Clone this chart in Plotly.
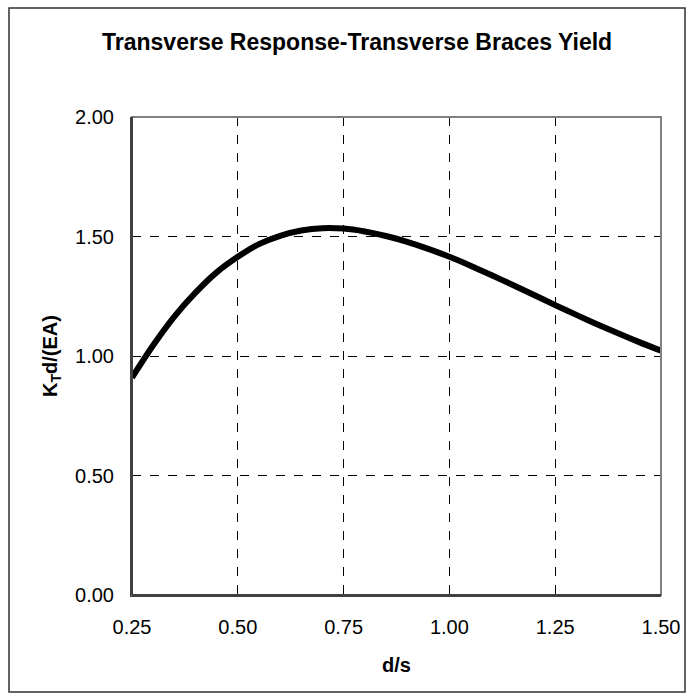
import plotly.graph_objects as go

# d/s ratio and normalised transverse stiffness K_T d/(EA)
d_over_s = [0.25, 0.30, 0.35, 0.40, 0.45, 0.50, 0.55, 0.60, 0.65, 0.70, 0.75,
            0.80, 0.85, 0.90, 0.95, 1.00, 1.05, 1.10, 1.15, 1.20, 1.25, 1.30,
            1.35, 1.40, 1.45, 1.50]
stiffness = [0.91, 1.045, 1.165, 1.265, 1.35, 1.415, 1.468, 1.503, 1.525, 1.535,
             1.533, 1.521, 1.502, 1.478, 1.448, 1.415, 1.378, 1.338, 1.297, 1.255,
             1.213, 1.172, 1.132, 1.094, 1.057, 1.022]

x_ticks = [0.25, 0.50, 0.75, 1.00, 1.25, 1.50]
y_ticks = [0.00, 0.50, 1.00, 1.50, 2.00]

font_family = "Liberation Sans, Arial, sans-serif"

fig = go.Figure()
fig.add_trace(go.Scatter(
    x=d_over_s, y=stiffness, mode="lines",
    line=dict(color="black", width=6, shape="spline", smoothing=0.8),
    showlegend=False, hoverinfo="skip",
))

fig.update_layout(
    width=692, height=700,
    margin=dict(l=132, r=31, t=117, b=105),
    paper_bgcolor="white", plot_bgcolor="white",
    font=dict(family=font_family, size=20, color="black"),
    title=dict(text="<b>Transverse Response-Transverse Braces Yield</b>",
               x=0.516, xanchor="center", y=1 - 42 / 700, yanchor="middle",
               font=dict(size=23, family=font_family, color="black")),
    xaxis=dict(
        range=[0.25, 1.50], tickvals=x_ticks,
        ticktext=[f"{v:.2f}" for v in x_ticks],
        showgrid=True, gridcolor="black", griddash="dash", gridwidth=1,
        zeroline=False, showline=True, linecolor="#404040", linewidth=2,
        ticks="", ticklabelstandoff=13,
        title=dict(text="<b>d/s</b>", standoff=21,
                   font=dict(size=20, family=font_family)),
    ),
    yaxis=dict(
        range=[0, 2.0], tickvals=y_ticks,
        ticktext=[f"{v:.2f}" for v in y_ticks],
        showgrid=True, gridcolor="black", griddash="dash", gridwidth=1,
        zeroline=False, showline=True, linecolor="#404040", linewidth=2,
        ticks="", ticklabelstandoff=12,
        title=dict(text="<b>K<sub>T</sub>d/(EA)</b>", standoff=12,
                   font=dict(size=20, family=font_family)),
    ),
    shapes=[
        # plot area frame (top and right edges in grey)
        dict(type="rect", xref="x domain", yref="y domain", x0=0, x1=1, y0=0, y1=1,
             line=dict(color="#808080", width=2), layer="above"),
        # redraw left and bottom axis lines darker over the frame
        dict(type="line", xref="x domain", yref="y domain", x0=0, x1=0, y0=0, y1=1,
             line=dict(color="#404040", width=2), layer="above"),
        dict(type="line", xref="x domain", yref="y domain", x0=0, x1=1, y0=0, y1=0,
             line=dict(color="#404040", width=2), layer="above"),
        # outer chart border
        dict(type="rect", xref="paper", yref="paper",
             x0=-123 / 529, x1=1 + 24 / 529, y0=-97 / 478, y1=1 + 109 / 478,
             line=dict(color="#303030", width=1.5), layer="above"),
    ],
)

fig.write_html("out.html")
